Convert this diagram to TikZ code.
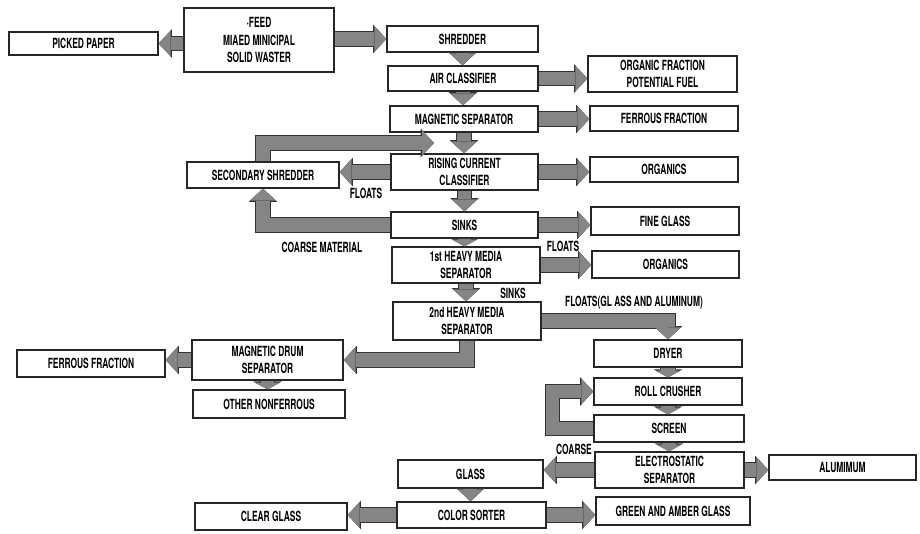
\documentclass[tikz,border=0pt]{standalone}
\usepackage{fontspec}
\setmainfont{TeX Gyre Heros}[FakeStretch=0.6]
\usetikzlibrary{arrows.meta}
\tikzset{
  box/.style={draw=black!85, line width=0.9pt, fill=white, inner sep=0pt, align=center,
    font=\fontsize{10.5}{12.8}\selectfont\bfseries},
  lbl/.style={font=\fontsize{10.5}{12.8}\selectfont\bfseries, inner sep=0pt},
  fat/.style={draw=black!48, line width=10pt,
    -{Triangle[length=9pt,width=19pt,line width=0pt]},
    preaction={draw=black!80, line width=11.6pt,
      -{Triangle[length=10pt,width=21.5pt,line width=0pt]}}},
  fatshort/.style={draw=black!48, line width=10pt,
    -{Triangle[length=5pt,width=19pt,line width=0pt]},
    preaction={draw=black!80, line width=11.6pt,
      -{Triangle[length=6pt,width=21.5pt,line width=0pt]}}},
}
\newcommand\bx[6]{\node[box, minimum width={(#4-#2)*0.75pt}, minimum height={(#5-#3)*0.75pt}] (#1) at ({(#2+#4)/2},{(#3+#5)/2}) {#6};}
\begin{document}
\begin{tikzpicture}[x=0.75pt,y=-0.75pt]
\useasboundingbox (0,0) rectangle (920,534);
% boxes
\bx{pp}{9}{32}{158}{55}{PICKED PAPER}
\bx{feed}{184}{8}{334}{72}{·FEED\\MIAED MINICIPAL\\SOLID WASTER}
\bx{shr}{387}{26}{538}{52}{SHREDDER}
\bx{air}{388}{66}{538}{91}{AIR CLASSIFIER}
\bx{org1}{588}{56}{737}{92}{ORGANIC FRACTION\\POTENTIAL FUEL}
\bx{mag}{390}{106}{538}{132}{MAGNETIC SEPARATOR}
\bx{ff1}{590}{106}{738}{131}{FERROUS FRACTION}
\bx{rcc}{391}{154}{538}{190}{RISING CURRENT\\CLASSIFIER}
\bx{org2}{590}{157}{738}{182}{ORGANICS}
\bx{ss}{187}{162}{339}{188}{SECONDARY SHREDDER}
\bx{sinks}{391}{212}{538}{238}{SINKS}
\bx{fg}{591}{207}{739}{235}{FINE GLASS}
\bx{hms1}{392}{247}{540}{283}{1st HEAVY MEDIA\\SEPARATOR}
\bx{org3}{592}{251}{739}{278}{ORGANICS}
\bx{hms2}{393}{302}{541}{340}{2nd HEAVY MEDIA\\SEPARATOR}
\bx{dryer}{594}{340}{742}{367}{DRYER}
\bx{rc}{594}{378}{742}{405}{ROLL CRUSHER}
\bx{mds}{192}{340}{343}{380}{MAGNETIC DRUM\\SEPARATOR}
\bx{ff2}{17}{350}{165}{377}{FERROUS FRACTION}
\bx{onf}{193}{390}{345}{418}{OTHER NONFERROUS}
\bx{screen}{594}{415}{744}{442}{SCREEN}
\bx{es}{595}{452}{744}{488}{ELECTROSTATIC\\SEPARATOR}
\bx{alu}{769}{455}{916}{480}{ALUMIMUM}
\bx{glass}{398}{460}{543}{488}{GLASS}
\bx{cs}{397}{502}{546}{528}{COLOR SORTER}
\bx{cg}{195}{503}{347}{530}{CLEAR GLASS}
\bx{gag}{596}{497}{750}{525}{GREEN AND AMBER GLASS}
% free ends
\coordinate (lpend) at (434,143);
% arrows
\draw[fat] (feed.west |- pp.east) -- (pp.east);
\draw[fat] (feed.east |- shr.west) -- (shr.west);
\draw[fat] (shr.south) -- (shr.south |- air.north);
\draw[fat] (air.east) -- (air.east -| org1.west);
\draw[fat] (air.south) -- (air.south |- mag.north);
\draw[fat] (mag.east) -- (mag.east -| ff1.west);
\draw[fat] (mag.south) -- (mag.south |- rcc.north);
\draw[fat] (rcc.east) -- (rcc.east -| org2.west);
\draw[fat] (rcc.west) -- (rcc.west -| ss.east);
\draw[fat] (ss.north) |- (lpend);
\draw[fat] (rcc.south) -- (rcc.south |- sinks.north);
\draw[fat] (sinks.east) -- (sinks.east -| fg.west);
\draw[fat] (sinks.west) -| (ss.south);
\draw[fatshort] (sinks.south) -- (sinks.south |- hms1.north);
\draw[fat] (hms1.east) -- (hms1.east -| org3.west);
\draw[fat] (hms1.south) -- (hms1.south |- hms2.north);
\draw[fat] (hms2.east) -| (dryer.north);
\draw[fat] (hms2.south) |- (mds.east);
\draw[fat] (mds.west) -- (mds.west -| ff2.east);
\draw[fatshort] (mds.south) -- (mds.south |- onf.north);
\draw[fatshort] (dryer.south) -- (dryer.south |- rc.north);
\draw[fatshort] (rc.south) -- (rc.south |- screen.north);
\draw[fat] (screen.west) -- ++(-41,0) |- (rc.west);
\draw[fatshort] (screen.south) -- (screen.south |- es.north);
\draw[fat] (es.east) -- (es.east -| alu.west);
\draw[fat] (es.west) -- (es.west -| glass.east);
\draw[fat] (glass.south) -- (glass.south |- cs.north);
\draw[fat] (cs.west) -- (cs.west -| cg.east);
\draw[fat] (cs.east) -- (cs.east -| gag.west);
% labels
\node[lbl] (l1) at (366,193) {FLOATS};
\node[lbl] (l2) at (322,247) {COARSE MATERIAL};
\node[lbl] (l3) at (563,246) {FLOATS};
\node[lbl] (l4) at (513,293) {SINKS};
\node[lbl] (l5) at (634,303) {FLOATS(GL ASS AND ALUMINUM)};
\node[lbl] (l6) at (574,449) {COARSE};
\end{tikzpicture}
\end{document}
